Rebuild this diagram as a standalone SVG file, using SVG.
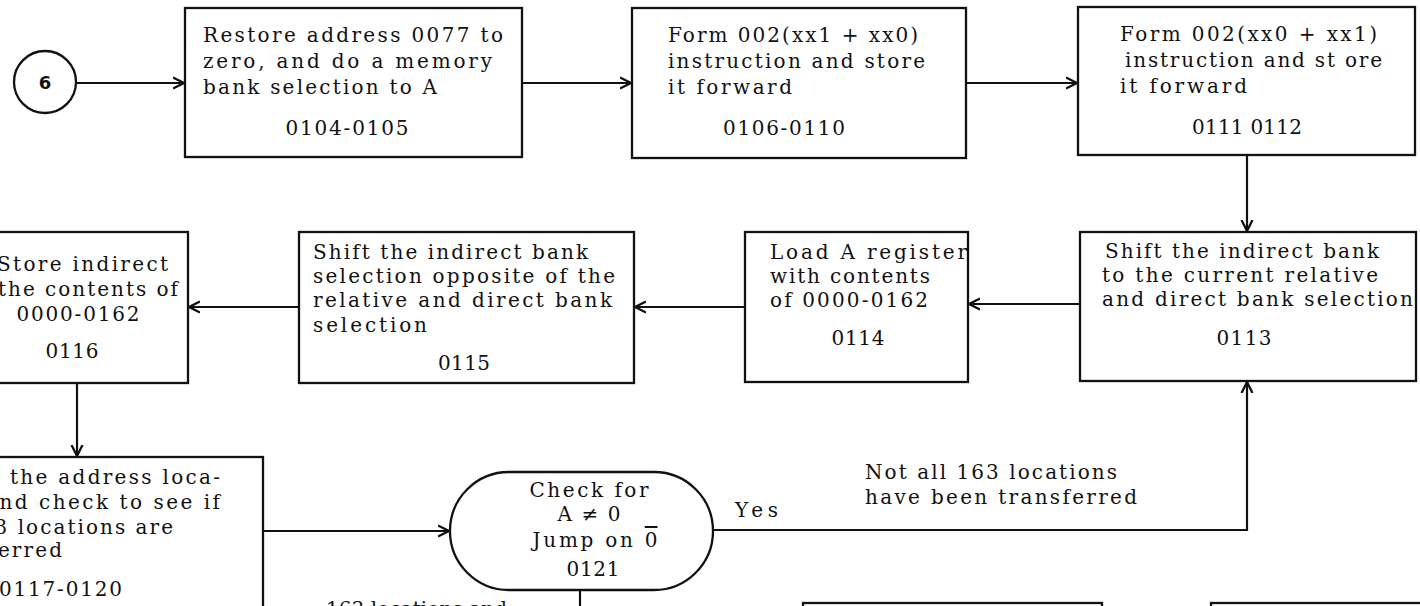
<svg xmlns="http://www.w3.org/2000/svg" width="1420" height="606" viewBox="0 0 1420 606">
<style>
.b{fill:#fff;stroke:#111;stroke-width:2.3}
.t{font-family:"DejaVu Serif","Liberation Serif",serif;font-size:20px;fill:#111}
.m{text-anchor:middle}
.e{text-anchor:end}
.c{fill:none;stroke:#111;stroke-width:2.2}
.ol{text-decoration:overline}
</style>
<defs>
<marker id="ar" markerUnits="userSpaceOnUse" markerWidth="14" markerHeight="14" refX="11" refY="7" orient="auto">
<path d="M0,1.5 L11,7 L0,12.5" fill="none" stroke="#111" stroke-width="2.3"/>
</marker>
</defs>
<rect width="1420" height="606" fill="#fff"/>
<g id="connectors">
<line class="c" x1="77" y1="83" x2="184" y2="83" marker-end="url(#ar)"/>
<line class="c" x1="522" y1="83" x2="631" y2="83" marker-end="url(#ar)"/>
<line class="c" x1="966" y1="83" x2="1077" y2="83" marker-end="url(#ar)"/>
<line class="c" x1="1247" y1="155" x2="1247" y2="231" marker-end="url(#ar)"/>
<line class="c" x1="1080" y1="304" x2="969" y2="304" marker-end="url(#ar)"/>
<line class="c" x1="745" y1="307" x2="635" y2="307" marker-end="url(#ar)"/>
<line class="c" x1="299" y1="307" x2="189" y2="307" marker-end="url(#ar)"/>
<line class="c" x1="77" y1="383" x2="77" y2="456" marker-end="url(#ar)"/>
<line class="c" x1="263" y1="531" x2="449" y2="531" marker-end="url(#ar)"/>
<polyline class="c" points="713,530 1247,530 1247,382" marker-end="url(#ar)"/>
<line class="c" x1="580" y1="590" x2="580" y2="606"/>
</g>
<g id="start6">
<circle class="b" cx="45" cy="82" r="31"/>
<text x="45" y="89" text-anchor="middle" font-family="DejaVu Sans, sans-serif" font-weight="bold" font-size="18" fill="#111">6</text>
</g>
<g id="n0104">
<rect class="b" x="185" y="8" width="337" height="149"/>
<text class="t" x="203" y="42" textLength="300" lengthAdjust="spacing">Restore address 0077 to</text>
<text class="t" x="203" y="68" textLength="289" lengthAdjust="spacing">zero, and do a memory</text>
<text class="t" x="203" y="94" textLength="234" lengthAdjust="spacing">bank selection to A</text>
<text class="t m" x="347" y="135" textLength="123" lengthAdjust="spacing">0104-0105</text>
</g>
<g id="n0106">
<rect class="b" x="632" y="8" width="334" height="150"/>
<text class="t" x="668" y="42" textLength="250" lengthAdjust="spacing">Form 002(xx1 + xx0)</text>
<text class="t" x="668" y="68" textLength="257" lengthAdjust="spacing">instruction and store</text>
<text class="t" x="668" y="94" textLength="124" lengthAdjust="spacing">it forward</text>
<text class="t m" x="784" y="135" textLength="122" lengthAdjust="spacing">0106-0110</text>
</g>
<g id="n0111">
<rect class="b" x="1078" y="7" width="337" height="148"/>
<text class="t" x="1120" y="41" textLength="257" lengthAdjust="spacing">Form 002(xx0 + xx1)</text>
<text class="t" x="1125" y="67" textLength="257" lengthAdjust="spacing">instruction and st ore</text>
<text class="t" x="1120" y="93" textLength="127" lengthAdjust="spacing">it forward</text>
<text class="t m" x="1247" y="134" textLength="110" lengthAdjust="spacing">0111 0112</text>
</g>
<g id="n0113">
<rect class="b" x="1080" y="232" width="336" height="149"/>
<text class="t" x="1105" y="258" textLength="274" lengthAdjust="spacing">Shift the indirect bank</text>
<text class="t" x="1102" y="282" textLength="276" lengthAdjust="spacing">to the current relative</text>
<text class="t" x="1102" y="306" textLength="311" lengthAdjust="spacing">and direct bank selection</text>
<text class="t m" x="1244" y="345" textLength="55" lengthAdjust="spacing">0113</text>
</g>
<g id="n0114">
<rect class="b" x="745" y="232" width="223" height="150"/>
<text class="t" x="770" y="259" textLength="197" lengthAdjust="spacing">Load A register</text>
<text class="t" x="770" y="283" textLength="160" lengthAdjust="spacing">with contents</text>
<text class="t" x="770" y="307" textLength="158" lengthAdjust="spacing">of 0000-0162</text>
<text class="t m" x="858" y="345" textLength="53" lengthAdjust="spacing">0114</text>
</g>
<g id="n0115">
<rect class="b" x="299" y="232" width="335" height="151"/>
<text class="t" x="313" y="259" textLength="275" lengthAdjust="spacing">Shift the indirect bank</text>
<text class="t" x="313" y="283" textLength="302" lengthAdjust="spacing">selection opposite of the</text>
<text class="t" x="313" y="307" textLength="299" lengthAdjust="spacing">relative and direct bank</text>
<text class="t" x="313" y="332" textLength="114" lengthAdjust="spacing">selection</text>
<text class="t m" x="464" y="370" textLength="52" lengthAdjust="spacing">0115</text>
</g>
<g id="n0116">
<rect class="b" x="-20" y="232" width="208" height="151"/>
<text class="t e" x="168" y="271" textLength="171" lengthAdjust="spacing">Store indirect</text>
<text class="t e" x="178" y="296" textLength="180" lengthAdjust="spacing">the contents of</text>
<text class="t m" x="78" y="321" textLength="123" lengthAdjust="spacing">0000-0162</text>
<text class="t m" x="72" y="358" textLength="53" lengthAdjust="spacing">0116</text>
</g>
<g id="n0117">
<rect class="b" x="-20" y="457" width="283" height="170"/>
<text class="t e" x="220" y="484" textLength="210" lengthAdjust="spacing">the address loca-</text>
<text class="t e" x="220" y="509" textLength="235" lengthAdjust="spacing">and check to see if</text>
<text class="t e" x="173" y="534" textLength="208" lengthAdjust="spacing">163 locations are</text>
<text class="t e" x="62" y="557" textLength="137" lengthAdjust="spacing">transferred</text>
<text class="t e" x="122" y="596" textLength="123" lengthAdjust="spacing">0117-0120</text>
</g>
<g id="n0121">
<rect class="b" x="450" y="472" width="263" height="118" rx="59" ry="59"/>
<text class="t m" x="589" y="497" textLength="119" lengthAdjust="spacing">Check for</text>
<text class="t m" x="589" y="521" textLength="63" lengthAdjust="spacing">A ≠ 0</text>
<text class="t m" x="595" y="547" textLength="125" lengthAdjust="spacing">Jump on <tspan class="ol">0</tspan></text>
<text class="t m" x="593" y="576" textLength="53" lengthAdjust="spacing">0121</text>
</g>
<g id="labels">
<text class="t" x="735" y="517" textLength="43" lengthAdjust="spacing">Yes</text>
<text class="t" x="865" y="479" textLength="252" lengthAdjust="spacing">Not all 163 locations</text>
<text class="t" x="865" y="504" textLength="272" lengthAdjust="spacing">have been transferred</text>
<text class="t" x="326" y="616" textLength="181" lengthAdjust="spacing">163 locations and</text>
</g>
<g id="n_bottom1">
<rect class="b" x="803" y="603" width="299" height="60"/>
</g>
<g id="n_bottom2">
<rect class="b" x="1211" y="603" width="230" height="60"/>
</g>
</svg>
